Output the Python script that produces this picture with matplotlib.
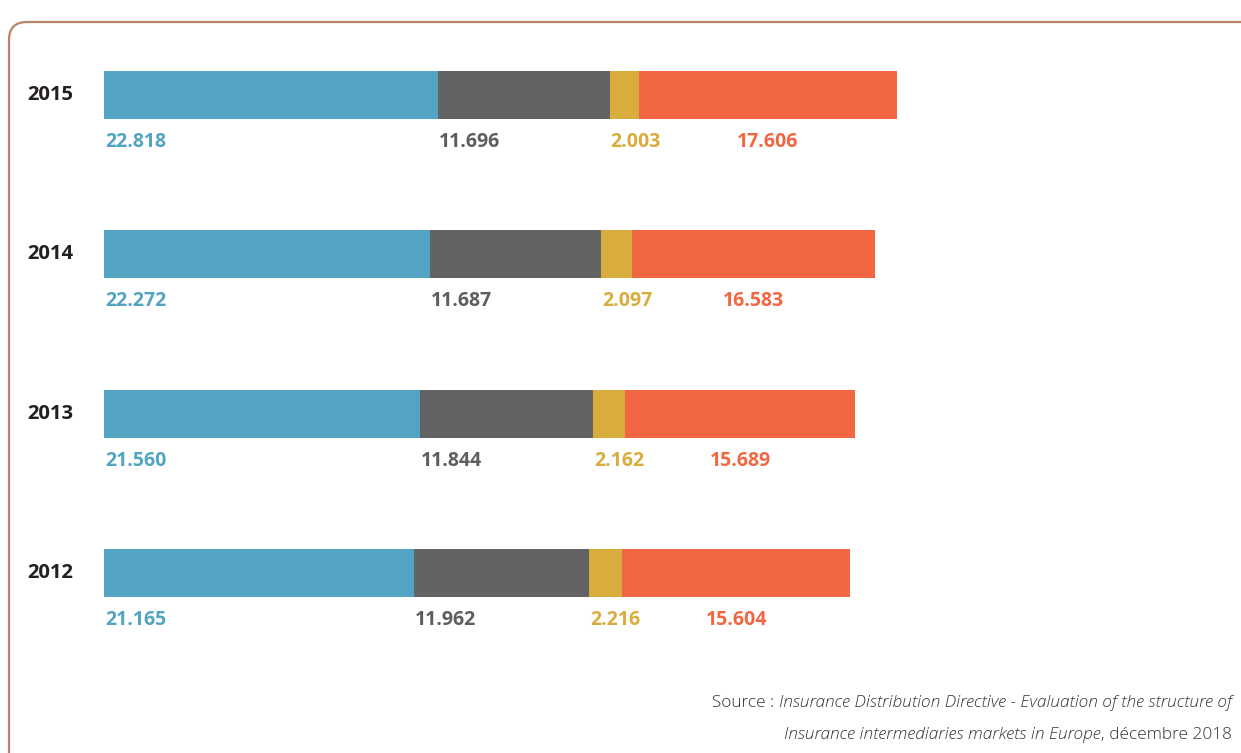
import matplotlib.pyplot as plt
import matplotlib.patches as mpatches

plt.rcParams['font.family'] = ['Open Sans', 'DejaVu Sans']

years = ["2012", "2013", "2014", "2015"]
seg_a = [21.165, 21.560, 22.272, 22.818]
seg_b = [11.962, 11.844, 11.687, 11.696]
seg_c = [2.216, 2.162, 2.097, 2.003]
seg_d = [15.604, 15.689, 16.583, 17.606]

COLORS = ["#53A4C3", "#636365", "#D9AC3E", "#F26741"]
LABEL_COLORS = ["#53A4C3", "#5E5E60", "#D9AC3E", "#F26741"]

W, H = 1241, 753
fig = plt.figure(figsize=(W / 100, H / 100), dpi=100)
fig.patch.set_facecolor("white")

# rounded frame, open to the right and bottom
frame = mpatches.FancyBboxPatch((9, -60), 1400, H - 13 + 60 - 9,
                                boxstyle="round,pad=0,rounding_size=18",
                                fill=False, edgecolor="#B98468", linewidth=1.6,
                                transform=None, clip_on=False)
fig.patches.append(frame)

left_px = 104
scale = 14.65  # pixels per unit
step = 159.3
ax = fig.add_axes([left_px / W, 0, 1 - left_px / W, 1])
ax.set_xlim(0, (W - left_px) / scale)
ax.set_ylim(-(H - 573) / step, 573 / step)
ax.axis("off")

segments = [seg_a, seg_b, seg_c, seg_d]
bar_h = 48 / step
label_off = 47 / step
for i, year in enumerate(years):
    start = 0
    for j, seg in enumerate(segments):
        v = seg[i]
        ax.barh(i, v, left=start, height=bar_h, color=COLORS[j], linewidth=0)
        txt = f"{v:.3f}"
        if j == len(segments) - 1:
            ax.text(start + v / 2, i - label_off, txt, ha="center", va="center",
                    color=LABEL_COLORS[j], fontsize=14, fontweight="bold")
        else:
            ax.text(start + (0.08 if j == 0 else 0.05), i - label_off, txt,
                    ha="left", va="center",
                    color=LABEL_COLORS[j], fontsize=14, fontweight="bold")
        start += v
    ax.text(-31 / scale, i, year, ha="right", va="center", color="#231F20",
            fontsize=14.5, fontweight="bold")

# source note, mixing upright and italic runs
line1 = [("Source : ", "normal"),
         ("Insurance Distribution Directive - Evaluation of the structure of", "italic")]
line2 = [("Insurance intermediaries markets in Europe", "italic"),
         (", décembre 2018", "normal")]

fig.canvas.draw()
renderer = fig.canvas.get_renderer()
for line, ypx in [(line1, 703), (line2, 735)]:
    x = 1232
    for text, style in reversed(line):
        t = fig.text(x / W, 1 - ypx / H, text, ha="right", va="center",
                     fontsize=12.4, fontstyle=style, color="#333333",
                     fontweight="light")
        bb = t.get_window_extent(renderer)
        x -= bb.width

fig.savefig("out.png", dpi=100, facecolor="white")
